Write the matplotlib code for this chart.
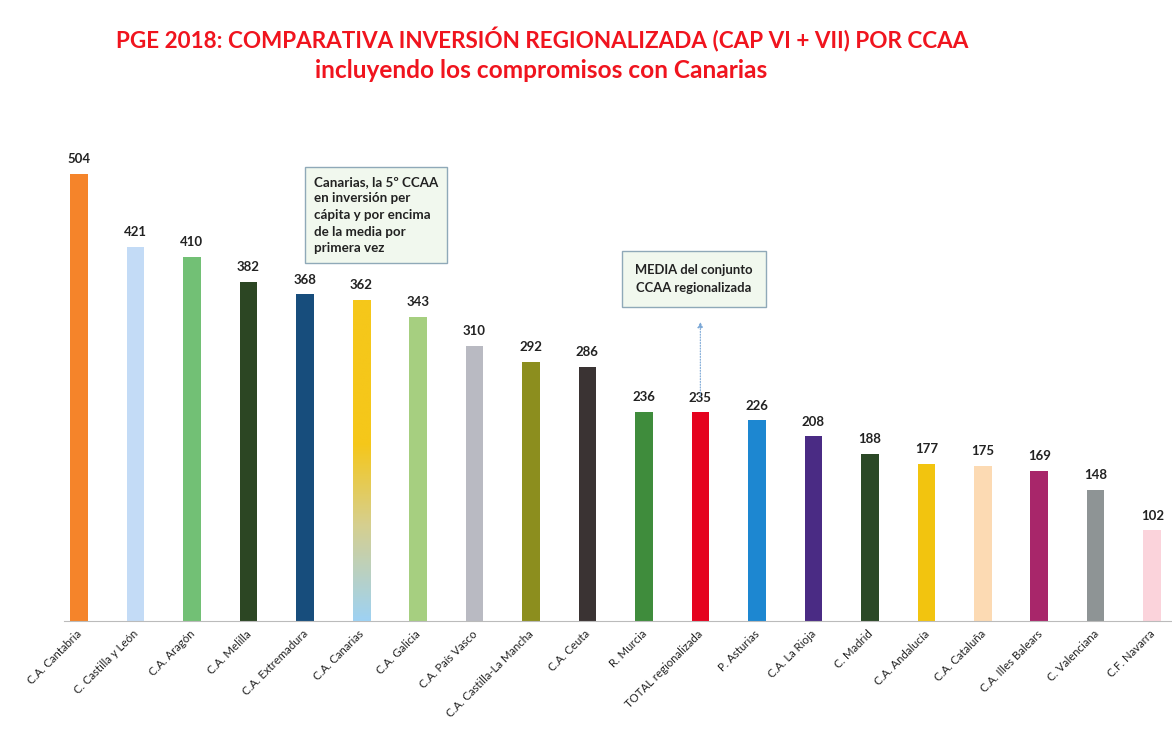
import matplotlib
matplotlib.use("Agg")
import matplotlib.pyplot as plt
import numpy as np
from matplotlib.colors import LinearSegmentedColormap

categories = ["C.A. Cantabria", "C. Castilla y León", "C.A. Aragón", "C.A. Melilla",
              "C.A. Extremadura", "C.A. Canarias", "C.A. Galicia", "C.A. País Vasco",
              "C.A. Castilla-La Mancha", "C.A. Ceuta", "R. Murcia", "TOTAL regionalizada",
              "P. Asturias", "C.A. La Rioja", "C. Madrid", "C.A. Andalucía", "C.A. Cataluña",
              "C.A. Illes Balears", "C. Valenciana", "C.F. Navarra"]
values = [504, 421, 410, 382, 368, 362, 343, 310, 292, 286, 236, 235, 226, 208, 188, 177, 175, 169, 148, 102]
colors = ["#F5842A", "#C3DBF6", "#72C075", "#2C4623", "#174D7C", "#F5C71A", "#A6CF80", "#B9BAC2",
          "#8C8E1E", "#3A3333", "#3F8C3C", "#E5021E", "#1D87D1", "#4A2B84", "#2B4826", "#F2C40F",
          "#FCDAB3", "#A8266A", "#8E9495", "#FBD3DB"]

plt.rcParams['font.family'] = ['Lato', 'DejaVu Sans']
fig = plt.figure(figsize=(11.72, 7.49), dpi=100)
ax = fig.add_axes([40/1172, 128/749, 1 - 40/1172, 497/749])
x = np.arange(len(values))
bars = ax.bar(x, values, width=0.31, color=colors, zorder=2)
ax.set_xlim(-0.69, 19.35)
ax.set_ylim(0, 560)

# gradient for Canarias bar
cb = bars[5]
grad = np.linspace(0, 1, 256).reshape(-1, 1)
cmap = LinearSegmentedColormap.from_list("g", [(0, "#9ED2F3"), (0.3, "#D6CF8E"), (0.55, "#F5C71A"), (1, "#F5C71A")])
bx, bw, bh = cb.get_x(), cb.get_width(), cb.get_height()
im = ax.imshow(grad, extent=[bx, bx + bw, 0, bh], origin='lower', aspect='auto', cmap=cmap, zorder=3)
im.set_clip_path(cb)

for xi, v in zip(x, values):
    ax.text(xi, v + 10, str(v), ha='center', va='bottom', fontsize=9.5, fontweight='bold', color='#222222')

for s in ["top", "right", "left"]:
    ax.spines[s].set_visible(False)
ax.spines["bottom"].set_color("#BBBBBB")
ax.spines["bottom"].set_linewidth(0.8)
ax.spines["bottom"].set_bounds(-0.27, 19.35)
ax.set_yticks([])
ax.set_xticks(x)
ax.set_xticklabels([])
ax.tick_params(axis='x', length=0)
for xi, c in zip(x, categories):
    ax.text(xi - 0.05, -8, c, rotation=45, ha='right', va='top', rotation_mode='anchor', fontsize=8.2, color='#222222')

fig.text(0.463, 0.947, "PGE 2018: COMPARATIVA INVERSIÓN REGIONALIZADA (CAP VI + VII) POR CCAA",
         ha='center', va='center', fontsize=16.2, fontweight='bold', color='#F0141E')
fig.text(0.462, 0.906, "incluyendo los compromisos con Canarias",
         ha='center', va='center', fontsize=17.6, fontweight='bold', color='#F0141E')

box = dict(boxstyle='square,pad=0.65', facecolor='#F1F8EE', edgecolor='#8FA9B8', linewidth=1)
fig.text(314/1172, 1 - 215/749, "Canarias, la 5º CCAA\nen inversión per\ncápita y por encima\nde la media por\nprimera vez",
         ha='left', va='center', fontsize=9.6, fontweight='bold', color='#222222', linespacing=1.45, bbox=box)
fig.text(694/1172, 1 - 279/749, "MEDIA del conjunto\nCCAA regionalizada",
         ha='center', va='center', fontsize=9.4, fontweight='bold', color='#222222', linespacing=1.5,
         bbox=dict(boxstyle='square,pad=1.05', facecolor='#F1F8EE', edgecolor='#8FA9B8', linewidth=1))

ax.annotate("", xy=(11, 340), xytext=(11, 250),
            arrowprops=dict(arrowstyle='-|>', color='#7AA7D6', linestyle=(0, (1, 1.5)), lw=0.8, mutation_scale=8))

fig.savefig("out.png", dpi=100, facecolor='white')
